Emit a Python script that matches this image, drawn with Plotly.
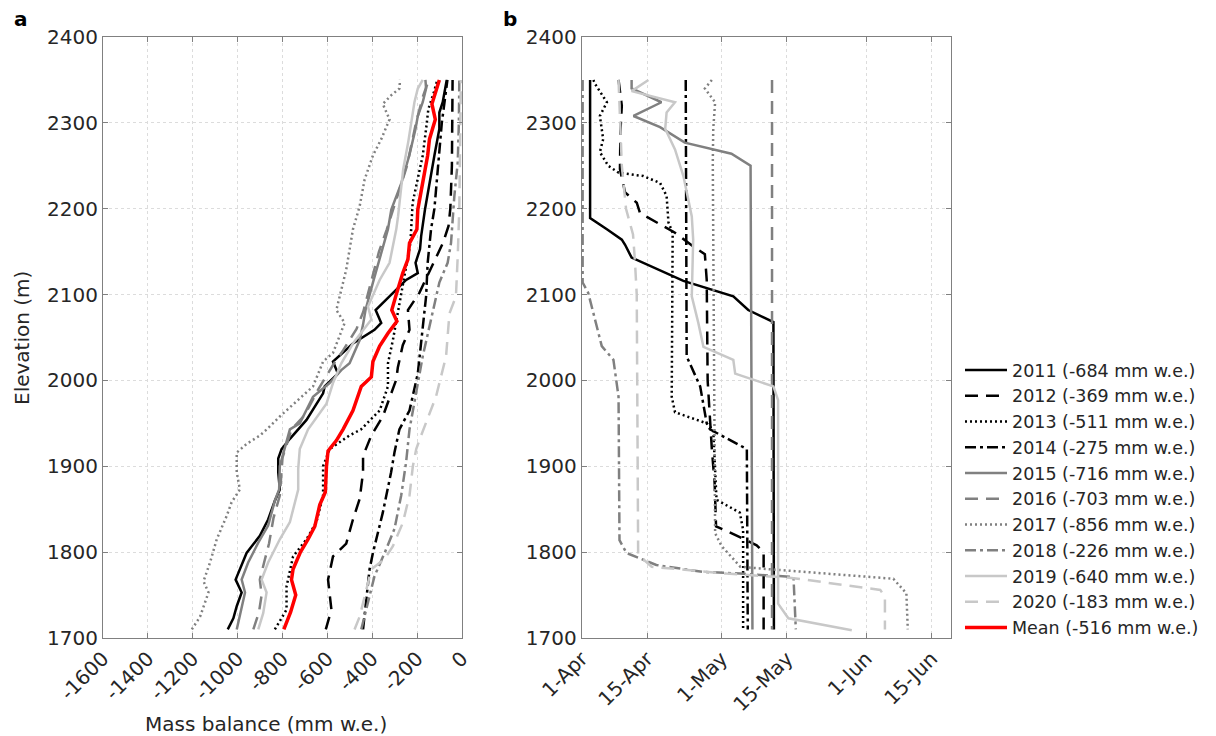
import plotly.graph_objects as go

# page body has an 8px margin: build the figure 8px smaller and place everything in reference pixels
OFF = 8
W, H = 1216 - OFF, 736 - OFF


def px(x):
    return (x - OFF) / W


def py(y):
    return 1 - (y - OFF) / H


# ---------------- Panel a: mass balance profiles (mm w.e.) vs elevation (m) ----------------
mb_2011_elev = [1710,1723,1737,1753,1768,1784,1799,1819,1838,1860,1873,1893,1909,1920,1932,1954,1985,1993,2008,2022,2043,2059,2067,2082,2100,2117,2125,2137,2153,2168,2199,2242,2262,2293,2312,2324,2336,2350]
mb_2011 = [-1044,-1019,-1004,-982,-1009,-982,-960,-901,-864,-834,-812,-819,-819,-804,-767,-693,-619,-612,-553,-575,-486,-390,-360,-385,-315,-249,-197,-207,-187,-182,-165,-138,-123,-101,-101,-86,-79,-68]

mb_2012_elev = [1710,1733,1768,1795,1810,1838,1862,1893,1912,1936,1958,2001,2015,2041,2059,2082,2102,2129,2145,2160,2180,2200,2250,2300,2350]
mb_2012 = [-607,-582,-597,-575,-516,-486,-456,-441,-441,-404,-353,-293,-286,-264,-234,-241,-190,-140,-110,-85,-60,-52,-45,-42,-42]

mb_2013_elev = [1710,1733,1760,1795,1815,1835,1866,1900,1920,1936,1943,1965,1993,2020,2047,2078,2129,2160,2207,2238,2262,2293,2316,2336,2350]
mb_2013 = [-834,-782,-782,-753,-693,-649,-619,-619,-590,-501,-450,-367,-330,-330,-308,-286,-249,-230,-220,-195,-175,-160,-150,-125,-110]

mb_2014_elev = [1710,1741,1780,1799,1846,1893,1916,1943,1965,2008,2059,2098,2137,2176,2200,2257,2300,2350]
mb_2014 = [-441,-427,-412,-397,-353,-316,-301,-279,-234,-197,-175,-160,-153,-138,-123,-105,-90,-65]

mb_2015_elev = [1710,1725,1753,1768,1788,1811,1831,1860,1873,1900,1943,1950,1981,1997,2012,2020,2047,2065,2082,2114,2149,2176,2199,2230,2262,2293,2308,2324,2340,2350]
mb_2015 = [-1004,-990,-967,-982,-953,-908,-864,-834,-815,-812,-767,-723,-664,-590,-538,-501,-456,-441,-430,-397,-360,-330,-315,-270,-235,-207,-197,-175,-160,-163]

mb_2016_elev = [1710,1730,1750,1768,1790,1810,1840,1866,1880,1910,1943,1960,1990,2020,2035,2060,2080,2100,2130,2150,2176,2200,2250,2300,2330,2350]
mb_2016 = [-930,-905,-893,-901,-880,-860,-840,-812,-808,-800,-760,-700,-640,-570,-530,-470,-440,-420,-390,-370,-335,-305,-245,-205,-175,-148]

mb_2017_elev = [1710,1725,1753,1766,1788,1815,1842,1858,1873,1893,1916,1926,1936,1943,1958,1993,2022,2032,2067,2082,2129,2153,2176,2203,2234,2262,2281,2304,2322,2332,2340,2350]
mb_2017 = [-1204,-1167,-1130,-1152,-1123,-1093,-1049,-1027,-990,-1004,-1004,-960,-900,-870,-812,-664,-619,-575,-523,-560,-516,-501,-486,-456,-434,-397,-360,-323,-353,-316,-279,-276]

mb_2018_elev = [1710,1741,1772,1799,1827,1866,1905,1943,2028,2114,2137,2160,2215,2254,2300,2350]
mb_2018 = [-449,-420,-390,-345,-301,-271,-249,-234,-175,-101,-64,-49,-34,-19,-14,-12]

mb_2019_elev = [1710,1729,1753,1768,1788,1815,1835,1873,1897,1920,1943,1973,1997,2020,2043,2071,2086,2117,2137,2176,2191,2246,2277,2304,2324,2340,2350]
mb_2019 = [-908,-886,-871,-893,-864,-812,-767,-730,-730,-723,-686,-604,-575,-538,-486,-404,-419,-367,-323,-293,-285,-262,-240,-225,-212,-197,-175]

mb_2020_elev = [1710,1725,1780,1792,1807,1834,1866,1900,1920,1936,1981,2028,2078,2098,2145,2200,2350]
mb_2020 = [-479,-456,-404,-345,-308,-264,-234,-219,-204,-182,-116,-71,-56,-27,-19,-12,-5]

mb_mean_elev = [1710,1730,1750,1768,1780,1800,1815,1830,1855,1870,1900,1918,1930,1943,1965,1993,2004,2022,2040,2055,2069,2082,2100,2125,2141,2160,2176,2199,2242,2262,2281,2304,2322,2336,2350]
mb_mean = [-794,-764,-741,-760,-753,-720,-686,-656,-634,-609,-604,-597,-560,-530,-486,-449,-404,-397,-367,-330,-290,-313,-293,-264,-241,-234,-201,-197,-167,-153,-145,-119,-134,-116,-101]

# ---------------- Panel b: date (days after 1 April) vs elevation ----------------
dt_2011_elev = [2350,2189,2176,2164,2158,2143,2116,2098,2082,2068,1710]
dt_2011 = [1.8,1.8,5.4,8.6,9.3,10.7,21.8,32.5,35.7,41.1,41.2]

dt_2012_elev = [2350,2320,2290,2246,2219,2207,2195,2184,2172,2156,2147,2117,2000,1920,1880,1830,1824,1808,1800,1710]
dt_2012 = [7.9,8.6,8.3,8.2,9.3,11.8,12.5,16,20,23.9,26.4,26.8,27.0,27.9,28.5,28.8,31.4,37.5,39,39]

dt_2013_elev = [2350,2345,2324,2308,2281,2266,2250,2242,2238,2230,2215,2184,2172,1981,1963,1950,1942,1861,1846,1826,1710]
dt_2013 = [2.5,2.9,5.4,3.9,4.6,3.9,5.7,7.9,13.2,16.8,18.2,18.6,19.5,19.3,20,26.8,28.2,28.9,33.9,34.6,34.6]

dt_2014_elev = [2350,2028,1993,1950,1943,1920,1710]
dt_2014 = [22.3,22.5,25.4,26.8,27.5,35.4,35.6]

dt_2015_elev = [2350,2340,2324,2308,2295,2277,2264,2250,1710]
dt_2015 = [10.7,10.7,17.1,11.1,16.8,22.1,32.1,36.2,36.6]

dt_2016_elev = [2350,1710]
dt_2016 = [40.8,40.8]

dt_2017_elev = [2350,2340,2324,2293,2254,1822,1807,1783,1781,1769,1752,1710]
dt_2017 = [27.9,26.4,28.6,28.2,28.1,28.6,30,34,38.2,66.8,69.6,69.9]

dt_2018_elev = [2350,2114,2102,2079,2040,2024,1981,1814,1799,1785,1777,1775,1771,1710]
dt_2018 = [0.2,0.2,1.4,2.5,4.3,6.8,7.9,8.1,9.6,16,26,34,45.4,45.9]

dt_2019_elev = [2350,2337,2324,2312,2293,2269,2238,2191,2164,2098,2067,2039,2024,2008,1993,1977,1740,1723,1709]
dt_2019 = [14.3,10.7,20,18.2,17.9,20,21.8,23.6,23.9,23.6,25,26.1,32.5,32.9,41.1,42.1,42.1,44.3,57.9]

dt_2020_elev = [2350,2300,2250,2200,2170,2140,2100,1797,1783,1775,1770,1756,1748,1710]
dt_2020 = [7.9,8.2,8.6,9.5,11,11.4,11.8,12.1,15,31,45,64,65,65]

legend_names = ["2011 (-684 mm w.e.)", "2012 (-369 mm w.e.)", "2013 (-511 mm w.e.)",
                "2014 (-275 mm w.e.)", "2015 (-716 mm w.e.)", "2016 (-703 mm w.e.)",
                "2017 (-856 mm w.e.)", "2018 (-226 mm w.e.)", "2019 (-640 mm w.e.)",
                "2020 (-183 mm w.e.)", "Mean (-516 mm w.e.)"]

mb_y_ticks = [1700, 1800, 1900, 2000, 2100, 2200, 2300, 2400]
mb_x_ticks = [-1600, -1400, -1200, -1000, -800, -600, -400, -200, 0]
mb_x_ticklabels = ["-1600", "-1400", "-1200", "-1000", "-800", "-600", "-400", "-200", "0"]
date_tick_days = [0, 14, 30, 44, 61, 75]
date_tick_labels = ["1-Apr", "15-Apr", "1-May", "15-May", "1-Jun", "15-Jun"]

# ---------------- styles ----------------
BLACK, GRAY, LGRAY, RED = "#000000", "#808080", "#c8c8c8", "#ff0000"
DASH = "13px,8px"
DOT = "2px,3px"
DASHDOT = "11px,4px,3px,4px"
styles = [
    (BLACK, "solid"), (BLACK, DASH), (BLACK, DOT), (BLACK, DASHDOT),
    (GRAY, "solid"), (GRAY, DASH), (GRAY, DOT), (GRAY, DASHDOT),
    (LGRAY, "solid"), (LGRAY, DASH),
]

mb_series = [(mb_2011, mb_2011_elev), (mb_2012, mb_2012_elev), (mb_2013, mb_2013_elev),
             (mb_2014, mb_2014_elev), (mb_2015, mb_2015_elev), (mb_2016, mb_2016_elev),
             (mb_2017, mb_2017_elev), (mb_2018, mb_2018_elev), (mb_2019, mb_2019_elev),
             (mb_2020, mb_2020_elev)]
dt_series = [(dt_2011, dt_2011_elev), (dt_2012, dt_2012_elev), (dt_2013, dt_2013_elev),
             (dt_2014, dt_2014_elev), (dt_2015, dt_2015_elev), (dt_2016, dt_2016_elev),
             (dt_2017, dt_2017_elev), (dt_2018, dt_2018_elev), (dt_2019, dt_2019_elev),
             (dt_2020, dt_2020_elev)]

fig = go.Figure()
for i, ((xv, yv), (col, dash)) in enumerate(zip(mb_series, styles)):
    fig.add_trace(go.Scatter(x=xv, y=yv, mode="lines", name=legend_names[i],
                             line=dict(color=col, dash=dash, width=2.5),
                             xaxis="x", yaxis="y", legendgroup=str(i)))
fig.add_trace(go.Scatter(x=mb_mean, y=mb_mean_elev, mode="lines", name=legend_names[10],
                         line=dict(color=RED, width=3.5), xaxis="x", yaxis="y"))
for i, ((xv, yv), (col, dash)) in enumerate(zip(dt_series, styles)):
    fig.add_trace(go.Scatter(x=xv, y=yv, mode="lines", name=legend_names[i],
                             line=dict(color=col, dash=dash, width=2.5),
                             xaxis="x2", yaxis="y2", showlegend=False, legendgroup=str(i)))

FONT = "DejaVu Sans"
TXT = "#262626"
common_axis = dict(showline=True, linecolor="#808080", linewidth=1, mirror="ticks",
                   ticks="inside", ticklen=5, tickcolor="#808080",
                   showgrid=True, gridcolor="#dcdcdc", griddash="3px,3px", gridwidth=1,
                   zeroline=False, automargin=False,
                   tickfont=dict(family=FONT, size=20, color=TXT))

ydom = [py(638), py(37)]
ya = dict(range=[1700, 2400], tickvals=mb_y_ticks, **common_axis)
fig.update_layout(
    width=W, height=H,
    margin=dict(l=0, r=0, t=0, b=0, autoexpand=False),
    paper_bgcolor="white", plot_bgcolor="white",
    font=dict(family=FONT, color=TXT),
    xaxis=dict(domain=[px(103), px(462)], range=[-1600, 0], tickvals=mb_x_ticks,
               ticktext=mb_x_ticklabels, tickangle=-45, anchor="y", **common_axis),
    yaxis=dict(domain=ydom, anchor="x", **ya),
    xaxis2=dict(domain=[px(581.7), px(950.7)], range=[0, 79.1], tickvals=date_tick_days,
                ticktext=date_tick_labels, tickangle=-45, anchor="y2", **common_axis),
    yaxis2=dict(domain=ydom, anchor="x2", **ya),
    legend=dict(x=px(960), y=py(352), xanchor="left", yanchor="top",
                font=dict(family=FONT, size=17.5, color=TXT), bgcolor="rgba(0,0,0,0)",
                itemwidth=42, tracegroupgap=0),
    showlegend=True,
)

ann = [
    dict(text="<b>a</b>", x=px(21), y=py(19), font=dict(size=20, color="#000")),
    dict(text="<b>b</b>", x=px(510), y=py(19), font=dict(size=20, color="#000")),
    dict(text="Elevation (m)", x=px(22), y=py(338), textangle=-90, font=dict(size=20, color=TXT)),
    dict(text="Mass balance (mm w.e.)", x=px(266), y=py(724), font=dict(size=20, color=TXT)),
]
for a in ann:
    fig.add_annotation(xref="paper", yref="paper", showarrow=False,
                       xanchor="center", yanchor="middle", **a)

fig.write_html("out.html")
